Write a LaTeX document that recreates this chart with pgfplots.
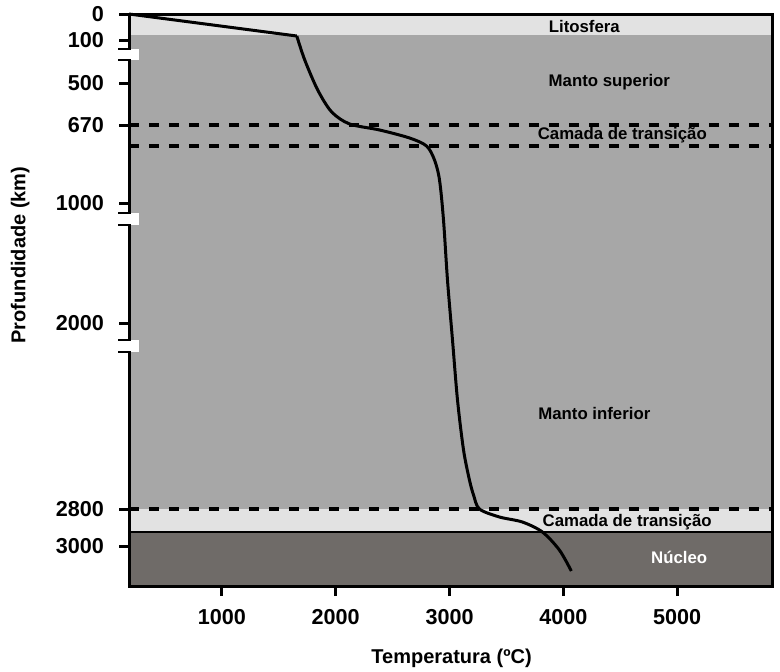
\documentclass[border=0pt]{standalone}
\usepackage{fontspec}
\setmainfont{Liberation Sans}
\usepackage{pgfplots}
\pgfplotsset{compat=1.18}
\definecolor{light}{HTML}{E2E2E2}
\definecolor{mantle}{HTML}{A7A7A7}
\definecolor{core}{HTML}{6F6B68}

\begin{document}
\begin{tikzpicture}
\useasboundingbox (-64.5pt,-42.5pt) rectangle (325.5pt,293pt);
\begin{axis}[
    at={(0,0)}, anchor=south west,
    scale only axis, width=321.5pt, height=286pt,
    xmin=184, xmax=5833,
    ymin=14, ymax=586, y dir=reverse,
    axis line style={line width=1.5pt},
    xtick={1000,2000,3000,4000,5000},
    xticklabels={1000,2000,3000,4000,5000},
    % y positions follow the broken depth scale of the figure
    ytick={14,40,83,125,203,323,509,546},
    yticklabels={0,100,500,670,1000,2000,2800,3000},
    tick pos=left, tick align=outside,
    major tick length=5pt,
    tick style={line width=1.5pt, black},
    ticklabel style={font=\bfseries\fontsize{10.8}{12}\selectfont},
    yticklabel style={xshift=-4pt},
    xticklabel style={yshift=-3pt},
    clip=false,
    axis on top,
  ]
  % layers
  \fill[mantle] (axis cs:184,14) rectangle (axis cs:5833,586);
  \fill[light] (axis cs:184,14) rectangle (axis cs:5833,35);
  \fill[light] (axis cs:184,509) rectangle (axis cs:5833,532);
  \fill[core] (axis cs:184,532) rectangle (axis cs:5833,586);
  \draw[line width=1.2pt] (axis cs:184,532) -- (axis cs:5833,532);
  \draw[line width=1.7pt, dash pattern=on 5pt off 5pt] (axis cs:184,125) -- (axis cs:5833,125);
  \draw[line width=1.7pt, dash pattern=on 5pt off 5pt] (axis cs:184,146) -- (axis cs:5833,146);
  \draw[line width=1.7pt, dash pattern=on 5pt off 5pt] (axis cs:184,509) -- (axis cs:5833,509);

  % geotherm
  \addplot[black, line width=1.5pt] coordinates {(184,14) (1658,36)};
  \addplot[black, line width=1.5pt, smooth, tension=0.5] coordinates {
    (1658,36) (1728,60) (1842,90) (1965,112) (2123,124) (2386,130)
    (2649,138) (2798,146) (2868,160) (2912,180) (2947,220) (2982,280)
    (3026,340) (3070,400) (3123,450) (3175,480) (3211,495) (3263,509)
    (3439,517) (3640,522) (3816,532) (3965,550) (4070,571)
  };

  \begin{scope}[font=\bfseries\fontsize{8.4}{10}\selectfont]
    \node at (axis cs:4184,26) {Litosfera};
    \node at (axis cs:4404,82) {Manto superior};
    \node at (axis cs:4518,135) {Camada de transição};
    \node at (axis cs:4272,413) {Manto inferior};
    \node at (axis cs:4561,522) {Camada de transição};
    \node[white] at (axis cs:5018,557) {Núcleo};
  \end{scope}

  \node[rotate=90, font=\bfseries\fontsize{10}{12}\selectfont] at (axis cs:-772,255) {Profundidade (km)};
  \node[font=\bfseries\fontsize{10}{12}\selectfont] at (axis cs:3018,658) {Temperatura (ºC)};

  % axis break marks
  \coordinate (b1a) at (axis cs:88,49);  \coordinate (b1b) at (axis cs:272,60);
  \coordinate (b2a) at (axis cs:88,213); \coordinate (b2b) at (axis cs:272,225);
  \coordinate (b3a) at (axis cs:88,340); \coordinate (b3b) at (axis cs:272,352);
  \coordinate (bx) at (axis cs:202,0);
\end{axis}
\foreach \a/\b in {b1a/b1b, b2a/b2b, b3a/b3b}{
  \fill[white] (\a) rectangle (\b);
  \draw[line width=1.3pt] (\a) -- (\a -| bx);
  \draw[line width=1.3pt] (\a |- \b) -- (bx |- \b);
}
\end{tikzpicture}
\end{document}
